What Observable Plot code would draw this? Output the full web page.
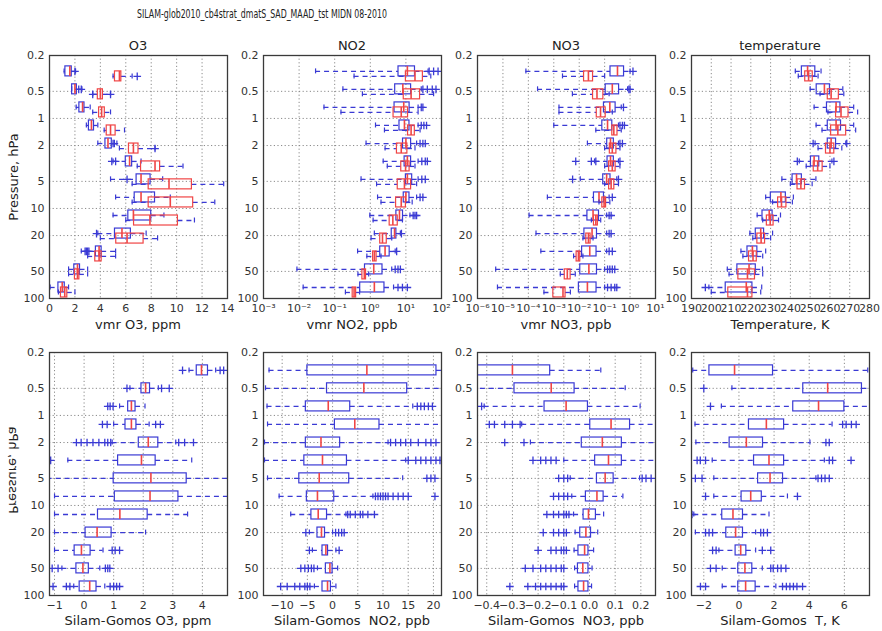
<!DOCTYPE html>
<html><head><meta charset="utf-8">
<script src="https://cdn.jsdelivr.net/npm/d3@7"></script>
<script src="https://cdn.jsdelivr.net/npm/@observablehq/plot@0.6"></script>
<style>
body{margin:0;background:#fff;}
#chart{position:relative;width:882px;height:631px;overflow:hidden;font-family:"DejaVu Sans",sans-serif;color:#222;}
.lbl{position:absolute;text-align:center;white-space:nowrap;font-size:13px;line-height:16px;color:#222;}
.ylbl{position:absolute;white-space:nowrap;font-size:13px;line-height:16px;color:#222;width:140px;text-align:center;}
</style></head><body><div id="chart"></div>
<script>
// ---------------- data ----------------
const pressureLevels = [0.316, 0.5, 0.794, 1.26, 2, 3.16, 5, 7.94, 12.6, 20, 31.6, 50, 79.4];
const pressureTicks = [0.2, 0.5, 1, 2, 5, 10, 20, 50, 100];
const pressureTickLabels = ["0.2", "0.5", "1", "2", "5", "10", "20", "50", "100"];

const titles = ["O3", "NO2", "NO3", "temperature"];
const topXLabels = ["vmr O3, ppm", "vmr NO2, ppb", "vmr NO3, ppb", "Temperature, K"];
const bottomXLabels = ["Silam-Gomos O3, ppm", "Silam-Gomos  NO2, ppb", "Silam-Gomos  NO3, ppb", "Silam-Gomos  T, K"];
const figureTitle = "SILAM-glob2010_cb4strat_dmatS_SAD_MAAD_tst MIDN 08-2010";
const yLabel = "Pressure, hPa";

// tick values / labels
const o3Ticks = [0, 2, 4, 6, 8, 10, 12, 14];
const o3TickLabels = ["0", "2", "4", "6", "8", "10", "12", "14"];
const no2Ticks = [1e-3, 1e-2, 1e-1, 1, 10, 100];
const no2TickLabels = ["10⁻³", "10⁻²", "10⁻¹", "10⁰", "10¹", "10²"];
const no3Ticks = [1e-6, 1e-5, 1e-4, 1e-3, 1e-2, 1e-1, 1, 10];
const no3TickLabels = ["10⁻⁶", "10⁻⁵", "10⁻⁴", "10⁻³", "10⁻²", "10⁻¹", "10⁰", "10¹"];
const tTicks = [190, 200, 210, 220, 230, 240, 250, 260, 270, 280];
const tTickLabels = ["190", "200", "210", "220", "230", "240", "250", "260", "270", "280"];
const dO3Ticks = [-1, 0, 1, 2, 3, 4];
const dO3TickLabels = ["−1", "0", "1", "2", "3", "4"];
const dNO2Ticks = [-10, -5, 0, 5, 10, 15, 20];
const dNO2TickLabels = ["−10", "−5", "0", "5", "10", "15", "20"];
const dNO3Ticks = [-0.4, -0.3, -0.2, -0.1, 0, 0.1, 0.2];
const dNO3TickLabels = ["−0.4", "−0.3", "−0.2", "−0.1", "0.0", "0.1", "0.2"];
const dTTicks = [-2, 0, 2, 4, 6];
const dTTickLabels = ["−2", "0", "2", "4", "6"];

// box statistics per pressure level: [whisker low, q1, median, q3, whisker high]
const o3Gomos = [[1.15,1.25,1.6,1.75,2.05],[1.75,1.78,2.0,2.15,2.55],[2.1,2.35,2.6,2.75,3.2],[2.9,3.1,3.3,3.5,3.8],[3.8,4.4,4.6,4.9,5.3],[5.0,6.0,6.3,6.5,7.2],[4.8,6.85,7.2,7.95,8.9],[5.2,6.7,7.2,8.3,9.5],[5.0,6.2,6.6,8.0,9.0],[3.8,5.15,5.7,6.4,7.6],[2.5,3.65,3.9,4.1,5.2],[1.5,1.95,2.2,2.4,3.0],[0.05,0.7,1.0,1.2,1.5]];
const o3GomosFliers = [[2.0],[2.3,2.5],[],[],[5.0,5.1],[4.9,5.2],[6.1],[],[],[3.7],[2.8,2.9,3.0,3.1],[],[]];
const o3Silam = [[5.0,5.15,5.5,5.65,6.5],[3.4,3.8,4.0,4.2,4.8],[3.4,3.9,4.1,4.35,4.8],[4.3,4.5,4.8,5.2,5.9],[5.5,6.25,6.6,7.0,8.3],[6.9,7.2,8.3,8.7,10.5],[6.5,7.8,9.4,11.2,13.7],[6.5,7.8,9.5,11.3,13.0],[6.0,6.65,7.9,10.1,11.4],[4.0,5.25,6.1,7.4,8.5],[3.0,3.6,3.9,4.1,5.2],[1.5,2.0,2.2,2.35,3.0],[0.7,0.9,1.2,1.4,2.0]];
const o3SilamFliers = [[6.9],[3.4,4.8],[],[],[8.3],[],[],[],[],[],[],[],[]];

const no2Gomos = [[0.029,6.2,11,18,42],[0.17,5.0,8.2,14,27],[0.05,4.8,8.7,12.7,22],[1.4,6.6,9.1,12.6,22],[0.76,8.3,10,14,20],[2.3,9.2,11,14,22],[0.55,10,11,15,22],[1.6,8.7,10,12.6,20],[0.97,5.4,6.6,8.3,13],[1.3,4.0,4.8,5.4,7],[0.44,1.9,2.6,3.5,5],[0.0087,0.71,1.25,2.2,4],[0.013,0.52,1.3,2.5,4.5]];
const no2GomosFliers = [[45,60,80],[30,40,55,70],[27,30],[27,32,38],[25,30,35],[28,35,40],[28,35],[25,30],[16,18,20],[7.5],[5.5],[5,6,7],[6,8,11]];
const no2Silam = [[0.35,10,18,30,50],[0.6,8.7,14,25,60],[0.15,4.5,7.4,11.5,22],[2.5,11.5,14,17.8,25],[2.6,5.6,7.4,11,18],[3,7.4,9.8,12.7,18],[1.5,5.9,9.1,14,20],[2,5.3,7.4,10,15],[1.2,3.5,4.3,5.9,8],[1.05,1.9,2.2,2.9,4],[0.8,1.2,1.3,1.5,2],[0.45,0.6,0.68,0.76,0.9],[0.2,0.32,0.35,0.40,0.5]];
const no2SilamFliers = [[],[],[],[],[],[],[],[],[],[],[],[],[]];

const no3Gomos = [[8e-5,0.17,0.32,0.58,1.0],[2.3e-4,0.11,0.2,0.37,0.8],[1.6e-3,0.094,0.16,0.27,0.45],[1.0e-3,0.081,0.13,0.2,0.35],[0.021,0.126,0.17,0.23,0.35],[0.04,0.13,0.17,0.23,0.35],[0.011,0.088,0.12,0.17,0.3],[5.6e-4,0.038,0.06,0.094,0.15],[1.07e-4,0.021,0.035,0.06,0.12],[2e-4,0.016,0.032,0.05,0.12],[3.1e-4,0.013,0.026,0.048,0.12],[5.2e-6,0.011,0.024,0.05,0.1],[6.1e-6,0.0097,0.021,0.048,0.1]];
const no3GomosFliers = [[1.3],[0.9,1.0],[0.55],[0.4,0.5,0.6],[0.4,0.5],[0.0073,0.03,0.045,0.4],[0.0055,0.35],[0.2],[0.15,0.18],[0.15,0.18],[0.15,0.2],[0.13,0.16,0.2,0.25],[0.13,0.18,0.25,0.3]];
const no3Silam = [[0.0022,0.0155,0.023,0.035,0.1],[0.0054,0.035,0.05,0.089,0.15],[0.0016,0.049,0.069,0.11,0.2],[0.045,0.2,0.23,0.32,0.45],[0.1,0.16,0.2,0.29,0.4],[0.1,0.15,0.2,0.27,0.4],[0.1,0.15,0.18,0.24,0.35],[0.06,0.081,0.095,0.114,0.16],[0.03,0.038,0.045,0.054,0.07],[0.014,0.019,0.023,0.028,0.035],[0.006,0.0079,0.0093,0.011,0.014],[0.0018,0.0027,0.0034,0.0046,0.007],[4.1e-4,9.6e-4,2.3e-3,2.9e-3,4.5e-3]];
const no3SilamFliers = [[],[],[],[],[],[],[],[],[],[],[],[],[]];

const tGomos = [[242.5,245.8,248.7,252.6,255.5],[250,253.3,257.2,260,266.5],[252,258.5,263.1,265.3,272],[253,258.9,263.1,265.6,272],[252.5,258.9,260.6,263.1,268],[244.5,250.4,252,254.6,261],[235.7,241.1,243.1,245.8,252.9],[227.5,230.1,235.2,237.7,241.5],[223.2,225.9,229.3,231,235],[219.5,222.5,225,226.7,231],[215,218.3,220.8,223.3,227.5],[208.1,213.2,219.1,222.5,225.9],[198.8,207.3,217.7,220.8,225.5]];
const tGomosFliers = [[],[],[],[],[251.5,268.5],[243.5,262],[],[],[],[],[],[],[197]];
const tSilam = [[244,247.5,249.2,251.3,254],[255,258.9,260.6,264.5,267],[259,263.1,265.6,269.4,274],[256,260.6,264,268.2,273],[254,258,260,262.2,266],[248,251.8,253.8,256.3,260],[240,243.6,245.3,247.4,251],[231,233.8,235.5,238,241],[226,228.1,229.8,231.5,234],[221,223.3,225.2,227.2,230],[216,219.1,221.1,223,226],[209,213.7,218.3,222.1,226],[200,208.6,218.3,220.8,225]];
const tSilamFliers = [[],[],[],[],[],[],[],[],[],[],[],[],[]];

const dO3 = [[3.55,3.81,3.97,4.19,4.45],[1.55,1.94,2.08,2.23,2.51],[1.2,1.49,1.6,1.74,2.06],[1.0,1.4,1.6,1.77,2.2],[0.95,1.85,2.17,2.51,3.1],[-0.55,1.15,1.94,2.42,3.64],[-1.25,1.0,2.26,3.47,4.9],[-1.0,1.04,2.23,3.19,4.9],[-1.0,0.47,1.21,2.15,3.5],[-1.0,0.05,0.44,0.93,2.08],[-1.0,-0.32,-0.09,0.22,0.64],[-0.75,-0.26,-0.04,0.16,0.53],[-0.35,-0.15,0.19,0.42,0.7]];
const dO3Fliers = [[3.33,4.6,4.72],[1.45,2.62,2.88],[0.8,0.88,0.98],[0.62,0.78,2.42,2.58],[-0.26,-0.1,0.1,0.3,0.5,0.7,0.8,0.9,3.2,3.4,3.7],[-1.13],[],[],[],[],[0.95,1.05,1.2],[-1.08,-0.88,0.72,0.8,0.87],[-1.05,-0.6,-0.48,0.88,1.0,1.1,1.2]];
const dNO2 = [[-12.6,-5.0,6.8,20.6,22],[-13.3,-1.1,6.2,14.8,22],[-13,-5.3,-0.86,3.5,15.9],[-12.9,0.46,4.4,9.3,22],[-13.5,-5.3,-2.3,1.5,11],[-13.5,-5.6,-2.0,2.85,14.5],[-12.9,-6.6,-2.65,3.3,13.9],[-10.6,-5.1,-3.0,0.33,8],[-8.3,-4.2,-2.85,-1.1,2.65],[-4.6,-3.0,-2.2,-1.5,0],[-4,-2,-1.33,-0.9,0.66],[-3,-1.33,-0.53,0,1],[-3.6,-2.0,-1.0,-0.33,0.66]];
const dNO2Fliers = [[],[],[16.8,17.5,18.2,19,19.8],[],[11.5,12.5,13.5,14.5,15.5,17,18.5,19.5,20.5],[15,16.5,17.5,18.5,19.5,20.5,21.3],[18.7,19.5,20.3],[8.5,9,9.5,10,10.5,11,12,13,14,15,20.3],[3,3.5,4.5,5.5,6,7,8.3],[-5.3,0.6,1.2,1.8,2.3],[-4.6,1.3],[-6.3,-5.5,-4.8,-4.2,-3.7],[-10.3,-9,-7.5,-6.5,-5.5,-5,-4.5]];
const dNO3 = [[-0.6,-0.47,-0.30,-0.153,0.044],[-0.46,-0.292,-0.149,-0.058,0.139],[-0.41,-0.175,-0.091,-0.006,0.197],[-0.264,0.003,0.084,0.158,0.3],[-0.23,-0.03,0.05,0.126,0.3],[-0.1,0.022,0.074,0.126,0.3],[-0.075,0.029,0.061,0.094,0.195],[-0.069,-0.014,0.029,0.055,0.13],[-0.062,-0.023,-0.004,0.025,0.055],[-0.056,-0.036,-0.014,0.006,0.032],[-0.06,-0.043,-0.019,-0.004,0.016],[-0.058,-0.045,-0.026,-0.004,0.01],[-0.058,-0.043,-0.023,-0.004,0.008]];
const dNO3Fliers = [[],[],[-0.42],[-0.39,-0.37,-0.33,-0.30,-0.27],[-0.33,-0.255],[-0.22,-0.19,-0.17,-0.15,-0.13],[-0.12,-0.1,-0.085,0.205,0.22,0.24],[-0.14,-0.12,-0.1,-0.085],[-0.166,-0.14,-0.12,-0.1,-0.09,-0.08],[-0.18,-0.14,-0.12,-0.1,-0.09],[-0.2,-0.15,-0.13,-0.11,-0.1,-0.09],[-0.25,-0.22,-0.19,-0.17,-0.15,-0.13,-0.11,-0.1],[-0.31,-0.24,-0.21,-0.19,-0.17,-0.15,-0.13,-0.11,-0.1]];
const dT = [[-2.63,-1.68,-0.25,1.94,7.33],[-0.4,3.66,5.05,7.0,7.6],[-1.0,3.09,4.53,6.0,7.6],[-2.5,0.57,1.56,2.57,5.3],[-2.45,-0.53,0.42,1.37,4.04],[-1.52,0.86,1.71,2.57,4.86],[-1.43,1.09,1.77,2.51,4.38],[-1.43,0.15,0.67,1.3,2.76],[-2.57,-0.95,-0.34,0.23,1.71],[-2.48,-0.72,-0.19,0.23,0.95],[-1.14,-0.19,0.1,0.42,0.95],[-0.95,-0.04,0.34,0.76,1.33],[-0.95,-0.04,0.38,0.95,2.1]];
const dTFliers = [[],[-2.0],[-1.62],[5.9,6.1,6.4,6.67],[4.95,5.14],[-2.38,-2.2,-1.9,5.14,5.33,6.38],[-2.48,-2.1,4.5,4.7,4.9,5.14],[-1.9,3.33],[-2.67],[-1.9,-1.7,-1.5,1.24,1.4,1.62],[-1.5,-1.3,1.33,1.81],[-1.62,-1.3,1.81,1.95,2.2,2.4,2.67],[-2.19,-1.9,2.48,2.7,2.9,3.1,3.3,3.62]];

// ---------------- layout & style ----------------
const BLUE = "#3a3ad4", RED = "#f04545", GRID = "#8a8a8a", FRAME = "#3a3a3a";
const COLS = [49, 263, 477, 691];
const FRAME_W = 178, FRAME_H = 243;
const ROW_TOP = [55, 352];
const ML = 40, MR = 12;
const PX_PER_DECADE = FRAME_H / Math.log10(500);

const chart = document.getElementById("chart");

function flatFliers(fl) {
  const out = [];
  fl.forEach((vals, i) => vals.forEach(v => out.push({p: pressureLevels[i], v})));
  return out;
}

function seriesMarks(stats, fliers, boxColor, offPx, halfPx) {
  const rows = stats.map((d, i) => ({p: pressureLevels[i], wlo: d[0], q1: d[1], med: d[2], q3: d[3], whi: d[4]}));
  const at = px => d => d.p * Math.pow(10, px / PX_PER_DECADE);
  const yc = at(offPx), yt = at(offPx - halfPx), yb = at(offPx + halfPx);
  const ct = at(offPx - halfPx * 0.5), cb = at(offPx + halfPx * 0.5);
  const dash = {stroke: BLUE, strokeWidth: 1.3, strokeDasharray: "5,4", clip: true};
  return [
    Plot.ruleY(rows, {y: yc, x1: "wlo", x2: "q1", ...dash}),
    Plot.ruleY(rows, {y: yc, x1: "q3", x2: "whi", ...dash}),
    Plot.ruleX(rows, {x: "wlo", y1: ct, y2: cb, stroke: BLUE, strokeWidth: 1.2, clip: true}),
    Plot.ruleX(rows, {x: "whi", y1: ct, y2: cb, stroke: BLUE, strokeWidth: 1.2, clip: true}),
    Plot.dot(flatFliers(fliers), {x: "v", y: yc, symbol: "plus", r: 2.6, stroke: BLUE, strokeWidth: 1.3, clip: true}),
    Plot.rect(rows, {x1: "q1", x2: "q3", y1: yt, y2: yb, fill: "none", stroke: boxColor, strokeWidth: 1.2, clip: true}),
    Plot.ruleX(rows, {x: "med", y1: yt, y2: yb, stroke: RED, strokeWidth: 1.6, clip: true})
  ];
}

function makePanel(col, row, cfg) {
  const mt = row === 0 ? 20 : 10;
  const mb = row === 0 ? 40 : 35;
  const svg = Plot.plot({
    width: FRAME_W + ML + MR,
    height: FRAME_H + mt + mb,
    marginLeft: ML, marginRight: MR, marginTop: mt, marginBottom: mb,
    style: {fontFamily: "DejaVu Sans, sans-serif", fontSize: "11px", color: "#333", background: "transparent", overflow: "visible"},
    x: {type: cfg.type, domain: cfg.domain, label: null, axis: null},
    y: {type: "log", domain: [0.2, 100], reverse: true, label: null, axis: null},
    marks: [
      Plot.gridX(cfg.ticks, {stroke: GRID, strokeOpacity: 1, strokeDasharray: "1.2,2.4"}),
      Plot.gridY(pressureTicks, {stroke: GRID, strokeOpacity: 1, strokeDasharray: "1.2,2.4"}),
      ...cfg.marks,
      Plot.frame({stroke: FRAME, strokeWidth: 1.3}),
      // tick labels drawn as text marks (keeps every label, including log ones)
      Plot.text(cfg.ticks, {x: d => d, text: (d, i) => cfg.tickLabels[i], frameAnchor: "bottom", lineAnchor: "top", dy: 6, fill: "#333"}),
      Plot.text(pressureTicks, {y: d => d, text: (d, i) => pressureTickLabels[i], frameAnchor: "left", textAnchor: "end", dx: -5, fill: "#333"})
    ]
  });
  svg.style.position = "absolute";
  svg.style.left = (COLS[col] - ML) + "px";
  svg.style.top = (ROW_TOP[row] - mt) + "px";
  chart.appendChild(svg);
}

function addLabel(text, left, top, width, extraStyle) {
  const d = document.createElement("div");
  d.className = "lbl";
  d.textContent = text;
  d.style.left = left + "px";
  d.style.top = top + "px";
  d.style.width = width + "px";
  if (extraStyle) Object.assign(d.style, extraStyle);
  chart.appendChild(d);
}

const topCfg = [
  {type: "linear", domain: [0, 14], ticks: o3Ticks, tickLabels: o3TickLabels,
   marks: [...seriesMarks(o3Gomos, o3GomosFliers, BLUE, -2, 5), ...seriesMarks(o3Silam, o3SilamFliers, RED, 3, 5)]},
  {type: "log", domain: [1e-3, 100], ticks: no2Ticks, tickLabels: no2TickLabels,
   marks: [...seriesMarks(no2Gomos, no2GomosFliers, BLUE, -2, 5), ...seriesMarks(no2Silam, no2SilamFliers, RED, 3, 5)]},
  {type: "log", domain: [1e-6, 10], ticks: no3Ticks, tickLabels: no3TickLabels,
   marks: [...seriesMarks(no3Gomos, no3GomosFliers, BLUE, -2, 5), ...seriesMarks(no3Silam, no3SilamFliers, RED, 3, 5)]},
  {type: "linear", domain: [190, 280], ticks: tTicks, tickLabels: tTickLabels,
   marks: [...seriesMarks(tGomos, tGomosFliers, BLUE, -2, 5), ...seriesMarks(tSilam, tSilamFliers, RED, 3, 5)]}
];
const bottomCfg = [
  {type: "linear", domain: [-1.17, 4.85], ticks: dO3Ticks, tickLabels: dO3TickLabels, marks: seriesMarks(dO3, dO3Fliers, BLUE, 0, 5)},
  {type: "linear", domain: [-13.7, 21.6], ticks: dNO2Ticks, tickLabels: dNO2TickLabels, marks: seriesMarks(dNO2, dNO2Fliers, BLUE, 0, 5)},
  {type: "linear", domain: [-0.436, 0.257], ticks: dNO3Ticks, tickLabels: dNO3TickLabels, marks: seriesMarks(dNO3, dNO3Fliers, BLUE, 0, 5)},
  {type: "linear", domain: [-2.7, 7.43], ticks: dTTicks, tickLabels: dTTickLabels, marks: seriesMarks(dT, dTFliers, BLUE, 0, 5)}
];

topCfg.forEach((c, i) => makePanel(i, 0, c));
bottomCfg.forEach((c, i) => makePanel(i, 1, c));

// texts
titles.forEach((t, i) => addLabel(t, COLS[i] - 20, 38, FRAME_W + 40));
topXLabels.forEach((t, i) => addLabel(t, COLS[i] - 30, 317, FRAME_W + 60));
bottomXLabels.forEach((t, i) => addLabel(t, COLS[i] - 30, 613, FRAME_W + 60, {whiteSpace: "pre"}));

// y labels
const yl1 = document.createElement("div");
yl1.className = "ylbl"; yl1.textContent = yLabel;
yl1.style.left = (14 - 70) + "px"; yl1.style.top = (177 - 8) + "px";
yl1.style.transform = "rotate(-90deg)";
chart.appendChild(yl1);
const yl2 = document.createElement("div");
yl2.className = "ylbl"; yl2.textContent = yLabel;
yl2.style.left = (13 - 70) + "px"; yl2.style.top = (470 - 8) + "px";
yl2.style.transform = "rotate(-90deg) scaleY(-1)";
chart.appendChild(yl2);

// figure title (compressed)
const ts = d3.select(chart).append("svg")
  .style("position", "absolute").style("left", "0px").style("top", "0px")
  .attr("width", 882).attr("height", 30);
ts.append("text")
  .attr("x", 137).attr("y", 18)
  .attr("textLength", 250).attr("lengthAdjust", "spacingAndGlyphs")
  .attr("font-family", "DejaVu Sans, sans-serif").attr("font-size", 12.5).attr("fill", "#222")
  .text(figureTitle);
</script>
</body></html>
